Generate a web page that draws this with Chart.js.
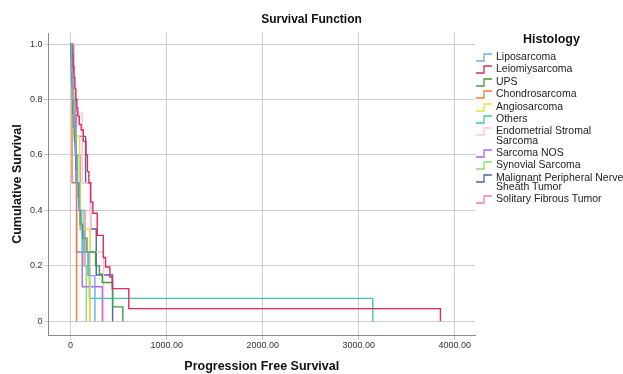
<!DOCTYPE html>
<html>
<head>
<meta charset="utf-8">
<script src="https://cdn.jsdelivr.net/npm/chart.js@4"></script>
<style>
  body { margin: 0; background: #fff; }
  #wrap { position: relative; width: 623px; height: 374px; font-family: "Liberation Sans", Arial, sans-serif; }
  #title { position: absolute; top: 12px; left: 0; width: 623px; text-align: center; font-weight: bold; font-size: 12px; color: #111; }
  #legend { position: absolute; left: 476px; top: 32px; width: 147px; color: #222; white-space: nowrap; }
  #legend h4 { margin: 0 0 6px 47px; font-size: 12.5px; font-weight: bold; color: #111; }
  .item { display: flex; align-items: flex-start; font-size: 10.5px; line-height: 9.5px; margin-bottom: 2.4px; }
  .item svg { flex: none; margin: 1px 4px 0 0; }
</style>
</head>
<body>
<div id="wrap">
  <canvas id="kmChart" width="623" height="374"></canvas>
  <div id="title">Survival Function</div>
  <div id="legend"><h4>Histology</h4></div>
</div>
<script>
const xTicks = [0, 1000, 2000, 3000, 4000];
const yTicks = [0, 0.2, 0.4, 0.6, 0.8, 1.0];

const histologies = ['Liposarcoma', 'Leiomiysarcoma', 'UPS', 'Chondrosarcoma', 'Angiosarcoma', 'Others',
  'Endometrial Stromal Sarcoma', 'Sarcoma NOS', 'Synovial Sarcoma', 'Malignant Peripheral Nerve Sheath Tumor',
  'Solitary Fibrous Tumor'];
const legendLines = [['Liposarcoma'], ['Leiomiysarcoma'], ['UPS'], ['Chondrosarcoma'], ['Angiosarcoma'], ['Others'],
  ['Endometrial Stromal', 'Sarcoma'], ['Sarcoma NOS'], ['Synovial Sarcoma'], ['Malignant Peripheral Nerve', 'Sheath Tumor'],
  ['Solitary Fibrous Tumor']];
const colors = ['#6aa7ef', '#e3285a', '#3f9c3f', '#f37a3a', '#e8df3a', '#3fc7b4',
  '#f9c4da', '#b064f2', '#8edc6a', '#4a62b4', '#f47aa8'];

// time (days) where survival steps down, and survival after that step
const liposarcomaTime = [0, 10, 20, 35, 50, 70, 90, 110, 140, 190, 253];
const liposarcomaSurv = [1, 0.9, 0.8, 0.7, 0.6, 0.5, 0.4, 0.33, 0.25, 0.165, 0];
const leiomiosarcomaTime = [0, 15, 25, 35, 45, 55, 65, 75, 90, 110, 132, 160, 175, 190, 208, 232, 277, 340, 364, 409, 433, 606, 3850];
const leiomiosarcomaSurv = [1, 0.96, 0.92, 0.88, 0.84, 0.8, 0.77, 0.74, 0.71, 0.69, 0.65, 0.6, 0.54, 0.5, 0.43, 0.39, 0.31, 0.23, 0.196, 0.16, 0.118, 0.046, 0];
const upsTime = [0, 5, 10, 15, 20, 25, 30, 40, 50, 55, 70, 80, 90, 100, 125, 170, 260, 300, 330, 437, 544];
const upsSurv = [1, 0.95, 0.9, 0.85, 0.8, 0.75, 0.7, 0.65, 0.6, 0.55, 0.5, 0.45, 0.4, 0.35, 0.3, 0.25, 0.2, 0.17, 0.14, 0.052, 0];
const chondroTime = [0, 15, 62];
const chondroSurv = [1, 0.5, 0];
const angioTime = [0, 20, 35, 94, 96, 201];
const angioSurv = [1, 0.833, 0.667, 0.5, 0.333, 0];
const othersTime = [0, 5, 20, 30, 40, 55, 70, 85, 100, 120, 180, 195, 3146];
const othersSurv = [1, 0.917, 0.833, 0.75, 0.667, 0.583, 0.5, 0.417, 0.333, 0.25, 0.167, 0.083, 0];
const endometrialTime = [0, 40, 121, 208, 343];
const endometrialSurv = [1, 0.75, 0.5, 0.25, 0];
const sarcomaNosTime = [0, 10, 30, 45, 55, 62, 121, 330];
const sarcomaNosSurv = [1, 0.875, 0.75, 0.625, 0.5, 0.25, 0.125, 0];
const synovialTime = [0, 10, 25, 40, 55, 75, 100, 130, 163];
const synovialSurv = [1, 0.9, 0.8, 0.7, 0.6, 0.5, 0.4, 0.2, 0];
const mpnstTime = [0, 30, 45, 156, 208, 267, 437];
const mpnstSurv = [1, 0.833, 0.667, 0.5, 0.333, 0.167, 0];
const sftTime = [0, 30, 60, 100, 150, 200];
const sftSurv = [1, 0.8, 0.6, 0.4, 0.2, 0];

const series = [
  [liposarcomaTime, liposarcomaSurv], [leiomiosarcomaTime, leiomiosarcomaSurv], [upsTime, upsSurv],
  [chondroTime, chondroSurv], [angioTime, angioSurv], [othersTime, othersSurv],
  [endometrialTime, endometrialSurv], [sarcomaNosTime, sarcomaNosSurv], [synovialTime, synovialSurv],
  [mpnstTime, mpnstSurv], [sftTime, sftSurv]
];

const datasets = series.map(([t, s], i) => ({
  label: histologies[i],
  data: t.map((x, j) => ({ x, y: s[j] })),
  borderColor: colors[i],
  borderWidth: 1.4,
  stepped: 'before',
  pointRadius: 0,
  fill: false
}));

// legend in html so the two-line labels wrap like the original
const legend = document.getElementById('legend');
legendLines.forEach((lines, i) => {
  const div = document.createElement('div');
  div.className = 'item';
  div.innerHTML = `<svg width="16" height="9"><path d="M0 8 H8 V1 H16" stroke="${colors[i]}" stroke-width="1.3" fill="none"/></svg><span>${lines.join('<br>')}</span>`;
  legend.appendChild(div);
});

const tickFont = { family: '"Liberation Sans", Arial, sans-serif', size: 9 };
const titleFont = { family: '"Liberation Sans", Arial, sans-serif', size: 12.5, weight: 'bold' };

new Chart(document.getElementById('kmChart').getContext('2d'), {
  type: 'line',
  data: { datasets },
  options: {
    responsive: false,
    animation: false,
    layout: { padding: { top: 33, right: 148, left: 10, bottom: 0 } },
    plugins: { legend: { display: false }, title: { display: false }, tooltip: { enabled: false } },
    scales: {
      x: {
        type: 'linear',
        min: -230,
        max: 4210,
        afterBuildTicks: scale => { scale.ticks = xTicks.map(value => ({ value })); },
        grid: { color: '#cdcdcd', tickLength: 5 },
        border: { color: '#8a8a8a' },
        ticks: { font: tickFont, color: '#333', padding: 0, maxRotation: 0,
          callback: v => v === 0 ? '0' : v.toFixed(2) },
        title: { display: true, text: 'Progression Free Survival', font: titleFont, color: '#111', padding: { top: 8, bottom: 0 } }
      },
      y: {
        min: -0.05,
        max: 1.04,
        afterBuildTicks: scale => { scale.ticks = yTicks.map(value => ({ value })); },
        grid: { color: '#cdcdcd', tickLength: 5 },
        border: { color: '#8a8a8a' },
        ticks: { font: tickFont, color: '#333', padding: 1,
          callback: v => v === 0 ? '0' : v.toFixed(1) },
        title: { display: true, text: 'Cumulative Survival', font: titleFont, color: '#111', padding: { top: 0, bottom: 4 } }
      }
    }
  }
});
</script>
</body>
</html>
